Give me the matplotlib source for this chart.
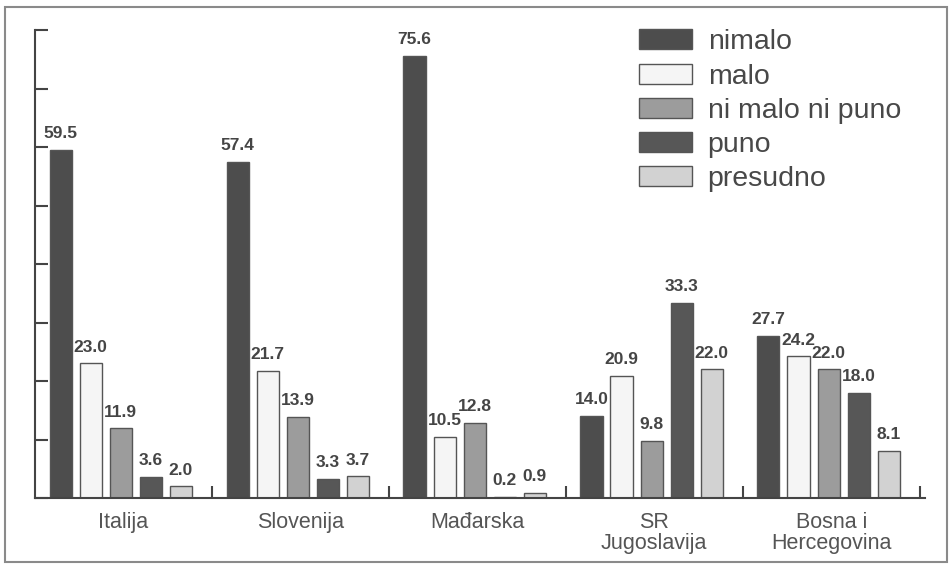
import numpy as np
import matplotlib.pyplot as plt
from matplotlib.patches import Rectangle

# data
countries = ['Italija', 'Slovenija', 'Mađarska', 'SR\nJugoslavija', 'Bosna i\nHercegovina']
series = ['nimalo', 'malo', 'ni malo ni puno', 'puno', 'presudno']
nimalo = [59.5, 57.4, 75.6, 14.0, 27.7]
malo = [23.0, 21.7, 10.5, 20.9, 24.2]
ni_malo_ni_puno = [11.9, 13.9, 12.8, 9.8, 22.0]
puno = [3.6, 3.3, 0.2, 33.3, 18.0]
presudno = [2.0, 3.7, 0.9, 22.0, 8.1]
values = [nimalo, malo, ni_malo_ni_puno, puno, presudno]

colors = ['#4d4d4d', '#f5f5f5', '#9c9c9c', '#575757', '#d2d2d2']

plt.rcParams['font.family'] = ['Liberation Sans', 'DejaVu Sans']

fig = plt.figure(figsize=(9.52, 5.67), dpi=100)
ax = fig.add_axes([35/952, 69/567, 890/952, 468/567])

x = np.arange(len(countries)) + 0.5
step = 0.17
width = 0.125
for j, (name, vals) in enumerate(zip(series, values)):
    pos = x + (j - 2) * step - 0.015
    ax.bar(pos, vals, width, color=colors[j], edgecolor='#555555',
           linewidth=1.0, label=name)
    for p, v in zip(pos, vals):
        ax.text(p, v + 1.5, '%.1f' % v, ha='center', va='bottom',
                fontsize=12.5, fontweight='bold', color='#454545')

ax.set_xlim(0, 5.03)
ax.set_ylim(0, 80)
ax.set_yticks(np.arange(0, 81, 10))
ax.set_yticklabels([])
ax.set_xticks([1, 2, 3, 4, 5])
ax.set_xticklabels([])
ax.tick_params(axis='y', direction='in', length=9, width=1.5, color='#444444')
ax.tick_params(axis='x', direction='in', length=9, width=1.5, color='#444444')
for s in ['top', 'right']:
    ax.spines[s].set_visible(False)
for s in ['left', 'bottom']:
    ax.spines[s].set_linewidth(1.5)
    ax.spines[s].set_color('#444444')

for xi, name in zip(x, countries):
    ax.text(xi, -2.4, name, ha='center', va='top', fontsize=15.5,
            color='#555555', linespacing=1.0)

ax.legend(loc='upper right', bbox_to_anchor=(0.989, 1.032), frameon=False,
          fontsize=20.5, handlelength=1.85, handleheight=0.7,
          handletextpad=0.55, labelspacing=0.29, borderpad=0.0,
          labelcolor='#484848')

# frame around the whole picture
fig.patches.append(Rectangle((5/952, 5/567), 942/952, 555/567,
                             transform=fig.transFigure, fill=False,
                             edgecolor='#8a8a8a', linewidth=1.5))

plt.savefig('out.png', dpi=100)
